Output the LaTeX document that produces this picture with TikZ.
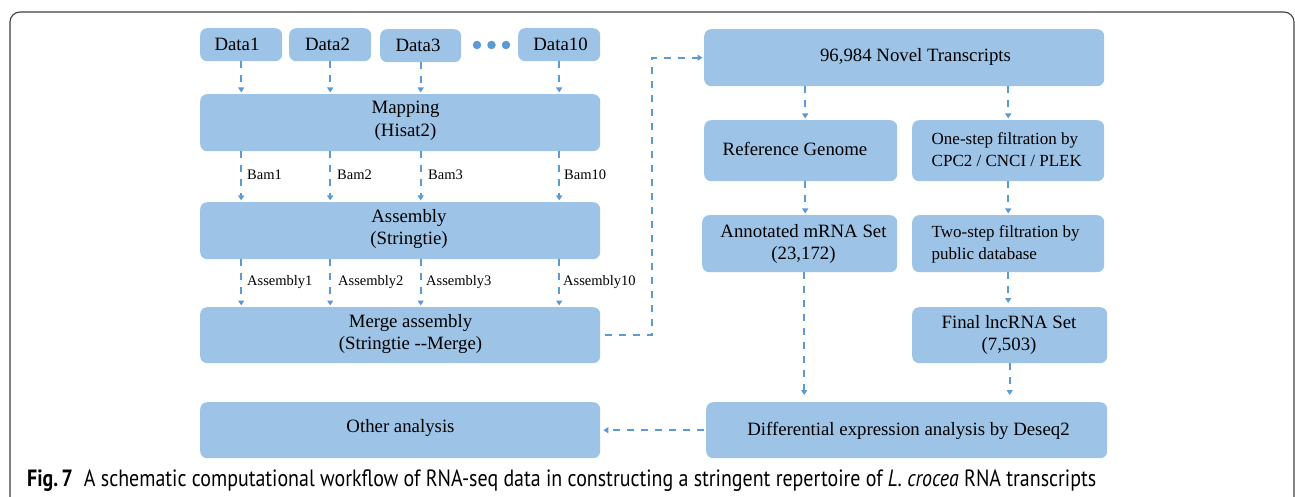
\documentclass[tikz,border=0pt]{standalone}
\usepackage{fontspec}
\setmainfont{Liberation Serif}
\newfontfamily\capfont{PT Sans}
\usetikzlibrary{arrows.meta}
\definecolor{boxblue}{HTML}{9DC3E6}
\definecolor{arrblue}{HTML}{5B9BD5}
\definecolor{framegray}{HTML}{404040}
\begin{document}
\begin{tikzpicture}[x=1pt,y=-1pt,
 box/.style={fill=boxblue, rounded corners=7pt, anchor=north west, inner sep=0pt},
 txt/.style={font=\fontsize{18.8}{22.5}\selectfont, align=center, inner sep=0pt},
 stxt/.style={font=\fontsize{17}{22}\selectfont, align=left, inner sep=0pt, anchor=west},
 lbl/.style={font=\fontsize{14.5}{16}\selectfont, anchor=west, inner sep=0pt},
 arr/.style={draw=arrblue, line width=2.1pt, dash pattern=on 7pt off 7pt, -{Triangle[length=5pt,width=6pt]}, shorten >=1.5pt},
 dotc/.style={circle, fill=arrblue, minimum size=8.5pt, inner sep=0pt}]
\useasboundingbox (0,0) rectangle (1295,497);
% frame
\draw[framegray, line width=1.1pt, rounded corners=10pt] (10,510) -- (10,12) -- (1294,12) -- (1294,510);
% left column boxes
\node[box, minimum width=82pt, minimum height=33pt] (d1) at (200,28) {};
\node[box, minimum width=82pt, minimum height=33pt] (d2) at (289,28) {};
\node[box, minimum width=81pt, minimum height=33pt] (d3) at (380,29) {};
\node[box, minimum width=82pt, minimum height=33pt] (d10) at (518,28) {};
\node[txt] (d1t) at (237,44.5) {Data1};
\node[txt] (d2t) at (327.5,44.5) {Data2};
\node[txt] (d3t) at (418,45.5) {Data3};
\node[txt] (d10t) at (560.5,44.5) {Data10};
\node[dotc] (o1) at (477,45) {};
\node[dotc] (o2) at (491.5,45) {};
\node[dotc] (o3) at (506,45) {};
\node[box, minimum width=400pt, minimum height=57pt] (map) at (200,94) {};
\node[txt] (mapt) at (405.5,121) {Mapping\\(Hisat2)};
\node[box, minimum width=400pt, minimum height=57pt] (asm) at (200,202) {};
\node[txt] (asmt) at (409,229) {Assembly\\(Stringtie)};
\node[box, minimum width=400pt, minimum height=56pt] (mrg) at (200,307) {};
\node[txt] (mrgt) at (410.5,334) {Merge assembly\\(Stringtie -{}-Merge)};
\node[box, minimum width=400pt, minimum height=56pt] (oth) at (200,402) {};
\node[txt] (otht) at (400.5,428) {Other analysis};
% right column boxes
\node[box, minimum width=400pt, minimum height=57pt] (nov) at (704,29) {};
\node[txt] (novt) at (915.5,57) {96,984 Novel Transcripts};
\node[box, minimum width=193pt, minimum height=61pt] (ref) at (704,120) {};
\node[txt] (reft) at (795,149) {Reference Genome};
\node[box, minimum width=192pt, minimum height=61pt] (one) at (912,120) {};
\node[stxt] (onet) at (931.5,149.5) {One-step filtration by\\CPC2 / CNCI / PLEK};
\node[box, minimum width=195pt, minimum height=57pt] (ann) at (702,215) {};
\node[txt] (annt) at (803.5,244) {Annotated mRNA Set\\(23,172)};
\node[box, minimum width=192pt, minimum height=57pt] (two) at (912,215) {};
\node[stxt] (twot) at (931.5,244) {Two-step filtration by\\public database};
\node[box, minimum width=195pt, minimum height=56pt] (fin) at (912,307) {};
\node[txt] (fint) at (1009,335) {Final lncRNA Set\\(7,503)};
\node[box, minimum width=401pt, minimum height=56pt] (dif) at (706,402) {};
\node[txt] (dift) at (908.5,430.5) {Differential expression analysis by Deseq2};
% arrows left
\foreach \n in {d1,d2,d3,d10}{
  \draw[arr] (\n.south) -- (\n.south |- map.north);
  \draw[arr] (\n.south |- map.south) -- (\n.south |- asm.north);
  \draw[arr] (\n.south |- asm.south) -- (\n.south |- mrg.north);
}
\node[lbl] (b1) at (247,175) {Bam1};
\node[lbl] (b2) at (337,175) {Bam2};
\node[lbl] (b3) at (428,175) {Bam3};
\node[lbl] (b10) at (564,175) {Bam10};
\node[lbl] (a1) at (247,282) {Assembly1};
\node[lbl] (a2) at (338,282) {Assembly2};
\node[lbl] (a3) at (426,282) {Assembly3};
\node[lbl] (a10) at (563,282) {Assembly10};
% connectors between columns
\draw[arr, shorten <=5pt] (mrg.east) -- ++(52,0) |- (nov.west);
\draw[arr, shorten <=2pt, shorten >=3pt] (dif.west) -- (dif.west -| oth.east);
% arrows right
\draw[arr] ([xshift=4.5pt]ref.north |- nov.south) -- ([xshift=4.5pt]ref.north);
\draw[arr] (one.north |- nov.south) -- (one.north);
\draw[arr] ([xshift=4.5pt]ref.south) -- ([xshift=4.5pt]ref.south |- ann.north);
\draw[arr] (one.south) -- (one.south |- two.north);
\draw[arr, shorten >=7pt] ([xshift=4.5pt]ann.south) -- ([xshift=4.5pt]ann.south |- dif.north);
\draw[arr, shorten >=4pt] (two.south) -- (two.south |- fin.north);
\draw[arr, shorten >=7pt] (fin.south) -- (fin.south |- dif.north);
% caption
\node[anchor=base west, inner sep=0pt] (cap) at (27,486) {\resizebox{1069pt}{!}{\scalebox{1}[1.18]{\capfont\fontsize{18}{20}\selectfont\textbf{Fig.\,7}\hspace{0.55em}A schematic computational workflow of RNA-seq data in constructing a stringent repertoire of \textit{L. crocea} RNA transcripts}}};
\end{tikzpicture}
\end{document}
